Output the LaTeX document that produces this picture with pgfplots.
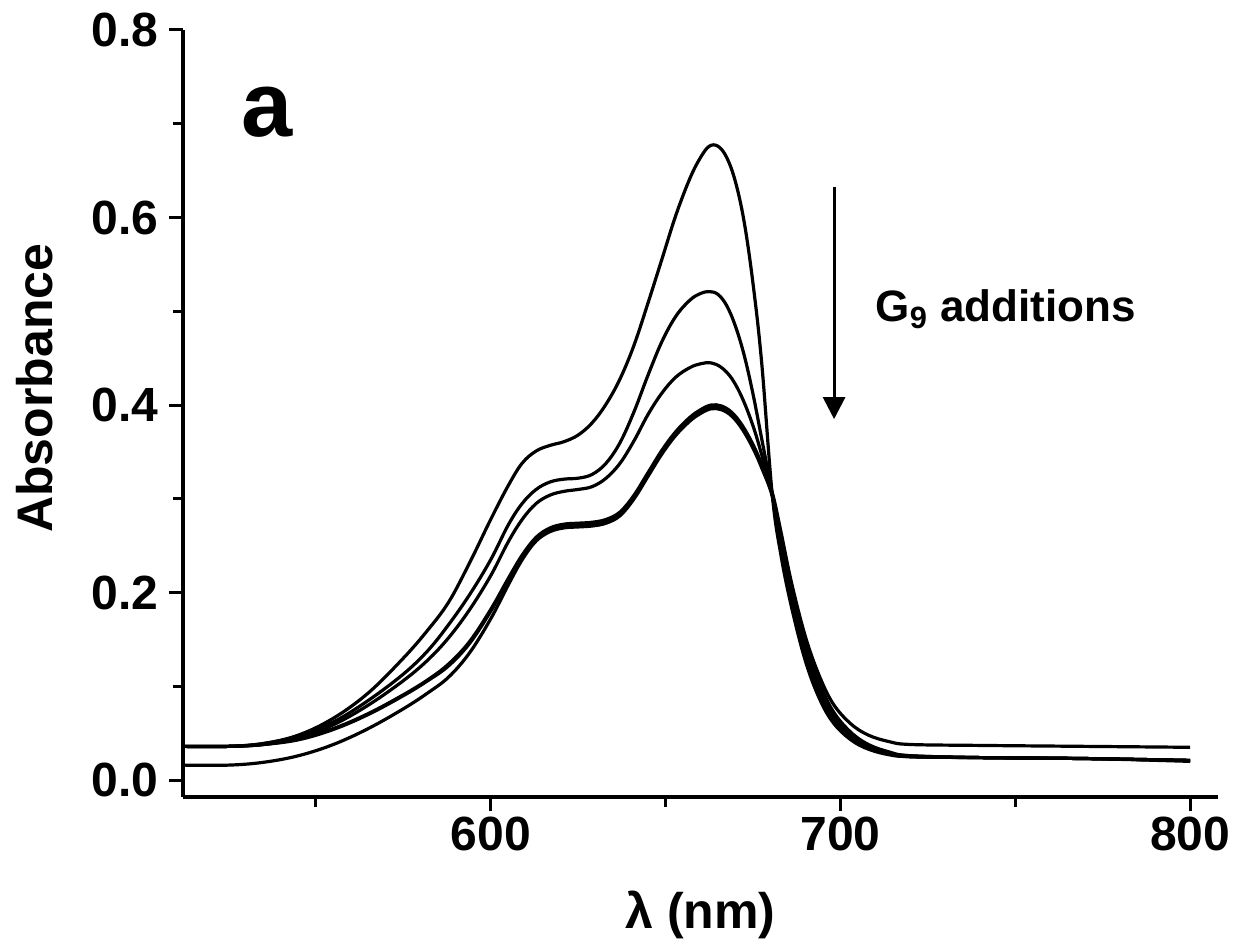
\documentclass[border=0pt]{standalone}
\usepackage{pgfplots}
\pgfplotsset{compat=1.18}
\usepackage{pgfplotstable}
\usepackage{fontspec}
\setmainfont{Liberation Sans}
\usetikzlibrary{arrows.meta}

\pgfplotstableread{
x y
512 0.036
525 0.036
535 0.039
545 0.048
555 0.066
565 0.093
575 0.130
582 0.160
588 0.190
594 0.232
600 0.278
605 0.314
609 0.338
613 0.351
617 0.357
621 0.361
625 0.368
629 0.381
633 0.401
637 0.428
641 0.464
645 0.509
649 0.556
653 0.603
657 0.642
660 0.664
662.5 0.676
665 0.676
667.5 0.664
670 0.638
672.5 0.595
675 0.530
677.5 0.445
680.5 0.305
683 0.240
686 0.185
690 0.127
694 0.087
698 0.061
703 0.043
708 0.033
714 0.027
720 0.025
740 0.024
770 0.023
800 0.021
}\curveA

\pgfplotstableread{
x y
512 0.036
525 0.036
535 0.039
545 0.047
555 0.062
565 0.085
575 0.113
582 0.138
588 0.166
594 0.198
600 0.235
605 0.272
609 0.295
613 0.310
617 0.318
621 0.321
625 0.322
629 0.326
633 0.338
637 0.360
641 0.393
645 0.432
649 0.468
653 0.495
657 0.512
660 0.519
662.5 0.521
665 0.518
667.5 0.506
670 0.484
672.5 0.453
675 0.412
677.5 0.364
680.5 0.305
683 0.245
686 0.188
690 0.131
694 0.091
698 0.064
703 0.045
708 0.034
714 0.028
720 0.025
740 0.024
770 0.023
800 0.021
}\curveB

\pgfplotstableread{
x y
512 0.036
525 0.036
535 0.038
545 0.045
555 0.059
565 0.080
575 0.106
582 0.128
588 0.152
594 0.182
600 0.218
605 0.254
609 0.278
613 0.295
617 0.304
621 0.308
625 0.310
629 0.313
633 0.322
637 0.338
641 0.362
645 0.390
649 0.413
653 0.430
657 0.440
660 0.444
663 0.445
666 0.440
669 0.428
672 0.407
675 0.378
677.5 0.347
680.5 0.305
683 0.252
686 0.196
690 0.138
694 0.096
698 0.068
703 0.048
708 0.036
714 0.029
720 0.026
740 0.024
770 0.023
800 0.021
}\curveC

\pgfplotstableread{
x y
512 0.036
525 0.036
535 0.038
545 0.043
555 0.054
565 0.070
575 0.090
582 0.106
588 0.122
594 0.146
600 0.180
605 0.213
609 0.238
613 0.257
617 0.267
621 0.271
625 0.272
629 0.273
633 0.276
637 0.284
641 0.302
645 0.326
649 0.350
653 0.370
657 0.385
660 0.393
663 0.398
666 0.397
669 0.390
672 0.376
675 0.356
677.5 0.335
680.5 0.305
683 0.260
686 0.205
690 0.147
694 0.104
698 0.073
703 0.051
708 0.038
714 0.030
720 0.026
740 0.024
770 0.023
800 0.021
}\curveD

\pgfplotstableread{
x y
512 0.036
525 0.036
535 0.038
545 0.044
555 0.055
565 0.071
575 0.091
582 0.107
588 0.124
594 0.148
600 0.182
605 0.215
609 0.240
613 0.259
617 0.269
621 0.273
625 0.274
629 0.275
633 0.278
637 0.286
641 0.304
645 0.328
649 0.352
653 0.372
657 0.387
660 0.395
663 0.400
666 0.399
669 0.392
672 0.378
675 0.358
677.5 0.337
680.5 0.307
683 0.265
686 0.211
690 0.153
694 0.111
698 0.081
703 0.060
708 0.048
714 0.041
720 0.038
740 0.037
770 0.036
800 0.035
}\curveE

\pgfplotstableread{
x y
512 0.016
525 0.016
535 0.019
545 0.026
555 0.038
565 0.055
575 0.076
582 0.093
588 0.110
594 0.136
600 0.172
605 0.208
609 0.235
613 0.255
617 0.265
621 0.269
625 0.270
629 0.271
633 0.274
637 0.282
641 0.300
645 0.324
649 0.348
653 0.368
657 0.383
660 0.391
663 0.396
666 0.395
669 0.388
672 0.374
675 0.354
677.5 0.333
680.5 0.303
683 0.258
686 0.202
690 0.144
694 0.101
698 0.070
703 0.049
708 0.036
714 0.029
720 0.025
740 0.024
770 0.023
800 0.020
}\curveF

\begin{document}
\begin{tikzpicture}[font=\bfseries]
\useasboundingbox (-91.5pt,-74pt) rectangle (525.5pt,398.5pt);
\begin{axis}[
  at={(0,0)}, anchor=south west,
  scale only axis, width=517.5pt, height=383.5pt,
  xmin=512, xmax=808, ymin=-0.018, ymax=0.8,
  axis x line*=bottom, axis y line*=left,
  axis line style={line width=1.7pt, black},
  xtick={600,700,800}, minor xtick={550,650,750},
  ytick={0,0.2,0.4,0.6,0.8}, minor ytick={0.1,0.3,0.5,0.7},
  tick align=outside, major tick length=7pt, minor tick length=5pt,
  every tick/.style={line width=1.5pt, black},
  /pgf/number format/assume math mode=true,
  yticklabel style={/pgf/number format/fixed, /pgf/number format/fixed zerofill, /pgf/number format/precision=1},
  ticklabel style={font=\fontsize{24}{28}\selectfont\bfseries},
  xticklabel style={inner sep=0pt, anchor=north, yshift=-3pt},
  yticklabel style={inner sep=0pt, anchor=east, xshift=-5pt},
  xlabel={λ (nm)}, ylabel={Absorbance},
  label style={font=\fontsize{25}{30}\selectfont\bfseries},
  xlabel style={at={(axis description cs:0.5,-0.1538)}, anchor=center},
  ylabel style={at={(axis description cs:-0.143,0.533)}, anchor=center},
  clip=false,
]
\addplot[black, line width=1.6pt, smooth, tension=0.6] table {\curveA};
\addplot[black, line width=1.6pt, smooth, tension=0.6] table {\curveB};
\addplot[black, line width=1.6pt, smooth, tension=0.6] table {\curveC};
\addplot[black, line width=1.6pt, smooth, tension=0.6] table {\curveD};
\addplot[black, line width=1.6pt, smooth, tension=0.6] table {\curveE};
\addplot[black, line width=1.6pt, smooth, tension=0.6] table {\curveF};
\node[anchor=base west, inner sep=0pt, font=\fontsize{46}{50}\selectfont\bfseries] at (axis cs:528.5,0.686) {a};
\node[anchor=base west, inner sep=0pt, font=\fontsize{22}{26}\selectfont\bfseries] at (axis cs:710,0.489) {G\textsubscript{9} additions};
\draw[-{Triangle[length=11pt,width=11pt]}, line width=1.5pt] (axis cs:698.2,0.633) -- (axis cs:698.2,0.385);
\end{axis}
\end{tikzpicture}
\end{document}
